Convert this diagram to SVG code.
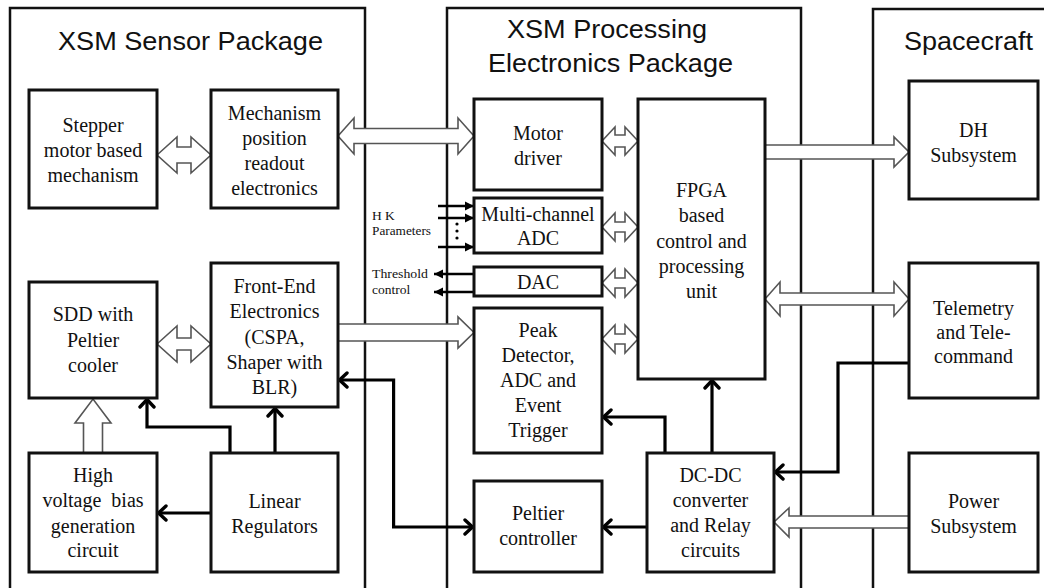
<svg xmlns="http://www.w3.org/2000/svg" width="1044" height="588" viewBox="0 0 1044 588">
<defs>
<marker id="chev" viewBox="-12 -9 14 18" refX="0" refY="0" markerWidth="14" markerHeight="18" markerUnits="userSpaceOnUse" orient="auto-start-reverse">
<path d="M-9,-7 L-1.5,0 L-9,7" fill="none" stroke="#000" stroke-width="3.4" stroke-linecap="round"/>
</marker>
<marker id="tri" viewBox="-10 -5 11 10" refX="0" refY="0" markerWidth="11" markerHeight="10" markerUnits="userSpaceOnUse" orient="auto">
<path d="M0,0 L-9,-4.5 L-9,4.5 Z" fill="#000"/>
</marker>
<style>
.cont{fill:none;stroke:#111;stroke-width:2.5}
.box{fill:#fff;stroke:#111;stroke-width:3}
.title{font-family:"Liberation Sans",Arial,sans-serif;font-size:25px;fill:#111}
.t{font-family:"Liberation Serif","Times New Roman",serif;font-size:20px;fill:#111;text-anchor:middle}
.s{font-family:"Liberation Serif","Times New Roman",serif;font-size:13.5px;fill:#111}
.hol{fill:#fff;stroke:#555;stroke-width:1.6;stroke-linejoin:miter}
.thick{fill:none;stroke:#000;stroke-width:3.2;marker-end:url(#chev)}
.thin{fill:none;stroke:#000;stroke-width:2.6;marker-end:url(#tri)}
</style>
</defs>
<rect width="1044" height="588" fill="#fff"/>
<g id="containers">
<rect class="cont" x="10" y="8" width="355" height="600"/>
<rect class="cont" x="447" y="8" width="354" height="600"/>
<rect class="cont" x="873" y="9" width="200" height="600"/>
<text class="title" x="58" y="50" textLength="265" lengthAdjust="spacingAndGlyphs">XSM Sensor Package</text>
<text class="title" x="507" y="38" textLength="200" lengthAdjust="spacingAndGlyphs">XSM Processing</text>
<text class="title" x="488" y="72" textLength="245" lengthAdjust="spacingAndGlyphs">Electronics Package</text>
<text class="title" x="904" y="50" textLength="129" lengthAdjust="spacingAndGlyphs">Spacecraft</text>
</g>
<g id="connectors">
<!-- hollow arrows -->
<polygon class="hol" points="157,155 177,137 177,147 191,147 191,137 211,155 191,173 191,163 177,163 177,173"/>
<polygon class="hol" points="338,136 354,118 354,128.5 458,128.5 458,118 474,136 458,154 458,143.5 354,143.5 354,154"/>
<polygon class="hol" points="602,141 615,127 615,135 625,135 625,127 638,141 625,155 625,147 615,147 615,155"/>
<polygon class="hol" points="602,227 615,213 615,222 625,222 625,213 638,227 625,241 625,232 615,232 615,241"/>
<polygon class="hol" points="602,283 615,269 615,278 625,278 625,269 638,283 625,297 625,288 615,288 615,297"/>
<polygon class="hol" points="602,339 615,325 615,334 625,334 625,325 638,339 625,353 625,344 615,344 615,353"/>
<polygon class="hol" points="765,145 894,145 894,137 909,152 894,167 894,159 765,159"/>
<polygon class="hol" points="765,299 780,282 780,293 894,293 894,282 909,299 894,316 894,305 780,305 780,316"/>
<polygon class="hol" points="338,324 458,324 458,317 474,332.5 458,348 458,341 338,341"/>
<polygon class="hol" points="157,344 177,326 177,338 191,338 191,326 211,344 191,362 191,350 177,350 177,362"/>
<polygon class="hol" points="83.5,453 83.5,423 75,423 93,399 111,423 102.5,423 102.5,453"/>
<polygon class="hol" points="909,516 789,516 789,508 774,522 789,537 789,528 909,528"/>
<!-- thick black connectors -->
<path class="thick" d="M230,453 V427 H147 V398"/>
<path class="thick" d="M275,453 V407"/>
<path class="thick" d="M211,513 H157"/>
<path class="thick" d="M392,527 H474" />
<path class="thick" d="M393.6,527 V380 H338"/>
<path class="thick" d="M665,453 V417 H602"/>
<path class="thick" d="M647,527 H602"/>
<path class="thick" d="M712,453 V379"/>
<path class="thick" d="M909,363 H838 V472 H774"/>
<!-- thin signal arrows -->
<path class="thin" d="M438,206 H474"/>
<path class="thin" d="M438,218 H474"/>
<path class="thin" d="M438,247 H474"/>
<path class="thin" d="M474,274 H434"/>
<path class="thin" d="M474,292 H434"/>
<circle cx="457" cy="224" r="1.6" fill="#000"/>
<circle cx="457" cy="231" r="1.6" fill="#000"/>
<circle cx="457" cy="238" r="1.6" fill="#000"/>
<text class="s" x="372" y="220">H K</text>
<text class="s" x="372" y="235" textLength="59" lengthAdjust="spacingAndGlyphs">Parameters</text>
<text class="s" x="372" y="278" textLength="56" lengthAdjust="spacingAndGlyphs">Threshold</text>
<text class="s" x="372" y="294">control</text>
</g>
<g id="stepper"><rect class="box" x="29" y="90" width="128" height="118"/>
<text class="t" x="93" y="132">Stepper</text><text class="t" x="93" y="157">motor based</text><text class="t" x="93" y="182">mechanism</text></g>
<g id="mechanism"><rect class="box" x="211" y="90" width="127" height="118"/>
<text class="t" x="274.5" y="120">Mechanism</text><text class="t" x="274.5" y="145">position</text><text class="t" x="274.5" y="170">readout</text><text class="t" x="274.5" y="195">electronics</text></g>
<g id="sdd"><rect class="box" x="29" y="282" width="128" height="116"/>
<text class="t" x="93" y="321">SDD with</text><text class="t" x="93" y="347">Peltier</text><text class="t" x="93" y="372">cooler</text></g>
<g id="frontend"><rect class="box" x="211" y="263" width="127" height="144"/>
<text class="t" x="274.5" y="293">Front-End</text><text class="t" x="274.5" y="318">Electronics</text><text class="t" x="274.5" y="344">(CSPA,</text><text class="t" x="274.5" y="369">Shaper with</text><text class="t" x="274.5" y="394">BLR)</text></g>
<g id="hv"><rect class="box" x="29" y="453" width="128" height="119"/>
<text class="t" x="93" y="482">High</text><text class="t" x="93" y="507" xml:space="preserve">voltage  bias</text><text class="t" x="93" y="533">generation</text><text class="t" x="93" y="557">circuit</text></g>
<g id="linear"><rect class="box" x="211" y="453" width="127" height="119"/>
<text class="t" x="274.5" y="508">Linear</text><text class="t" x="274.5" y="533">Regulators</text></g>
<g id="motor"><rect class="box" x="474" y="99" width="128" height="91"/>
<text class="t" x="538" y="140">Motor</text><text class="t" x="538" y="165">driver</text></g>
<g id="madc"><rect class="box" x="474" y="198" width="128" height="55"/>
<text class="t" x="538" y="221">Multi-channel</text><text class="t" x="538" y="245">ADC</text></g>
<g id="dac"><rect class="box" x="474" y="267" width="128" height="29"/>
<text class="t" x="538" y="289">DAC</text></g>
<g id="peak"><rect class="box" x="474" y="308" width="128" height="145"/>
<text class="t" x="538" y="337">Peak</text><text class="t" x="538" y="362">Detector,</text><text class="t" x="538" y="387">ADC and</text><text class="t" x="538" y="412">Event</text><text class="t" x="538" y="437">Trigger</text></g>
<g id="peltier"><rect class="box" x="474" y="481" width="128" height="91"/>
<text class="t" x="538" y="520">Peltier</text><text class="t" x="538" y="545">controller</text></g>
<g id="fpga"><rect class="box" x="638" y="99" width="127" height="280"/>
<text class="t" x="701.5" y="197">FPGA</text><text class="t" x="701.5" y="222">based</text><text class="t" x="701.5" y="248">control and</text><text class="t" x="701.5" y="273">processing</text><text class="t" x="701.5" y="298">unit</text></g>
<g id="dcdc"><rect class="box" x="647" y="453" width="127" height="119"/>
<text class="t" x="710.5" y="482">DC-DC</text><text class="t" x="710.5" y="507">converter</text><text class="t" x="710.5" y="532">and Relay</text><text class="t" x="710.5" y="557">circuits</text></g>
<g id="dh"><rect class="box" x="909" y="81" width="129" height="118"/>
<text class="t" x="973.5" y="137">DH</text><text class="t" x="973.5" y="162">Subsystem</text></g>
<g id="telemetry"><rect class="box" x="909" y="263" width="129" height="135"/>
<text class="t" x="973.5" y="315">Telemetry</text><text class="t" x="973.5" y="339">and Tele-</text><text class="t" x="973.5" y="363">command</text></g>
<g id="power"><rect class="box" x="909" y="453" width="129" height="119"/>
<text class="t" x="973.5" y="508">Power</text><text class="t" x="973.5" y="533">Subsystem</text></g>
</svg>
